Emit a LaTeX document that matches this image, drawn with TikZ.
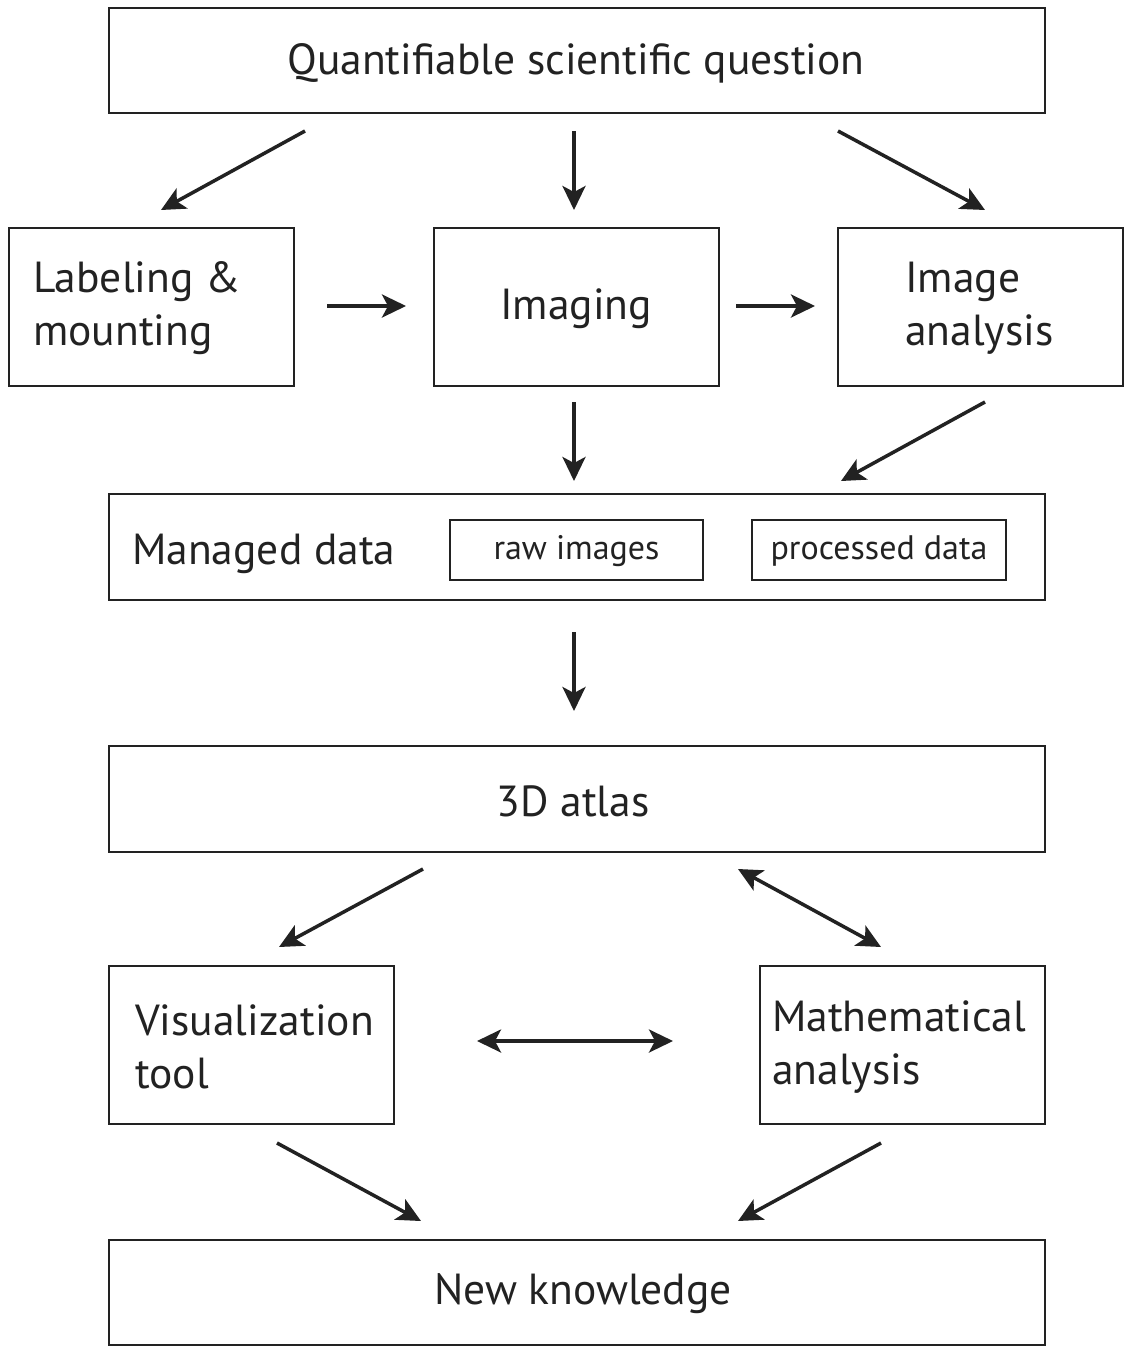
\documentclass[tikz,border=0pt]{standalone}
\usepackage{fontspec}
\setmainfont{PT Sans}
\usetikzlibrary{arrows.meta}
\definecolor{ink}{HTML}{222222}
\begin{document}
\begin{tikzpicture}[x=1pt,y=-1pt,
  box/.style={draw=ink,line width=2.2pt,rectangle,inner sep=0pt},
  lbl/.style={text=ink,font=\fontsize{43.5}{53}\selectfont,inner sep=0pt,align=left},
  small/.style={text=ink,font=\fontsize{34}{40}\selectfont,inner sep=0pt},
  arr/.style={draw=ink,line width=3.5pt,-{Stealth[length=24pt,width=23pt,inset=6pt]}},
  barr/.style={draw=ink,line width=3.5pt,{Stealth[length=24pt,width=23pt,inset=6pt]}-{Stealth[length=24pt,width=23pt,inset=6pt]}}]
\useasboundingbox (0,0) rectangle (1124,1347);
\fill[white] (0,0) rectangle (1124,1347);
% boxes
\node[box,minimum width=936pt,minimum height=105pt] (q) at (577,60.5) {};
\node[box,minimum width=285pt,minimum height=158pt] (lab) at (151.5,307) {};
\node[box,minimum width=285pt,minimum height=158pt] (img) at (576.5,307) {};
\node[box,minimum width=285pt,minimum height=158pt] (ana) at (980.5,307) {};
\node[box,minimum width=936pt,minimum height=106pt] (md) at (577,547) {};
\node[box,minimum width=253pt,minimum height=60pt] (raw) at (576.5,550) {};
\node[box,minimum width=254pt,minimum height=60pt] (proc) at (879,550) {};
\node[box,minimum width=936pt,minimum height=106pt] (atl) at (577,799) {};
\node[box,minimum width=285pt,minimum height=158pt] (vis) at (251.5,1045) {};
\node[box,minimum width=285pt,minimum height=158pt] (mat) at (902.5,1045) {};
\node[box,minimum width=936pt,minimum height=105pt] (nk) at (577,1292.5) {};
% texts
\node[lbl] (tq) at (576,63) {Quantifiable scientific question};
\node[lbl,anchor=west] (tlab) at (33,308) {Labeling \&\\mounting};
\node[lbl] (timg) at (576,309) {Imaging};
\node[lbl,anchor=west] (tana) at (905,308) {Image\\analysis};
\node[lbl,anchor=west] (tmd) at (132,554) {Managed data};
\node[small] (traw) at (576.5,551) {raw images};
\node[small] (tproc) at (879,551) {processed data};
\node[lbl] (tatl) at (573,801) {3D atlas};
\node[lbl,anchor=west] (tvis) at (135,1047) {Visualization\\tool};
\node[lbl,anchor=west] (tmat) at (772,1047) {Mathematical\\analysis};
\node[lbl] (tnk) at (583,1294) {New knowledge};
% arrow endpoints
\coordinate (a1s) at (305,131); \coordinate (a1e) at (161,210);
\coordinate (a2s) at (574,131); \coordinate (a2e) at (574,210);
\coordinate (a3s) at (838,131); \coordinate (a3e) at (985,210);
\coordinate (a4s) at (327,306); \coordinate (a4e) at (406,306);
\coordinate (a5s) at (736,306); \coordinate (a5e) at (815,306);
\coordinate (a6s) at (574,402); \coordinate (a6e) at (574,481);
\coordinate (a7s) at (985,402); \coordinate (a7e) at (841,481);
\coordinate (a8s) at (574,632); \coordinate (a8e) at (574,711);
\coordinate (a9s) at (423,869); \coordinate (a9e) at (279,947);
\coordinate (b1s) at (738,869); \coordinate (b1e) at (881,947);
\coordinate (b2s) at (477,1041); \coordinate (b2e) at (673,1041);
\coordinate (a10s) at (277,1143); \coordinate (a10e) at (421,1221);
\coordinate (a11s) at (881,1143); \coordinate (a11e) at (738,1221);
\draw[arr] (a1s) -- (a1e);
\draw[arr] (a2s) -- (a2e);
\draw[arr] (a3s) -- (a3e);
\draw[arr] (a4s) -- (a4e);
\draw[arr] (a5s) -- (a5e);
\draw[arr] (a6s) -- (a6e);
\draw[arr] (a7s) -- (a7e);
\draw[arr] (a8s) -- (a8e);
\draw[arr] (a9s) -- (a9e);
\draw[barr] (b1s) -- (b1e);
\draw[barr] (b2s) -- (b2e);
\draw[arr] (a10s) -- (a10e);
\draw[arr] (a11s) -- (a11e);
\end{tikzpicture}
\end{document}
